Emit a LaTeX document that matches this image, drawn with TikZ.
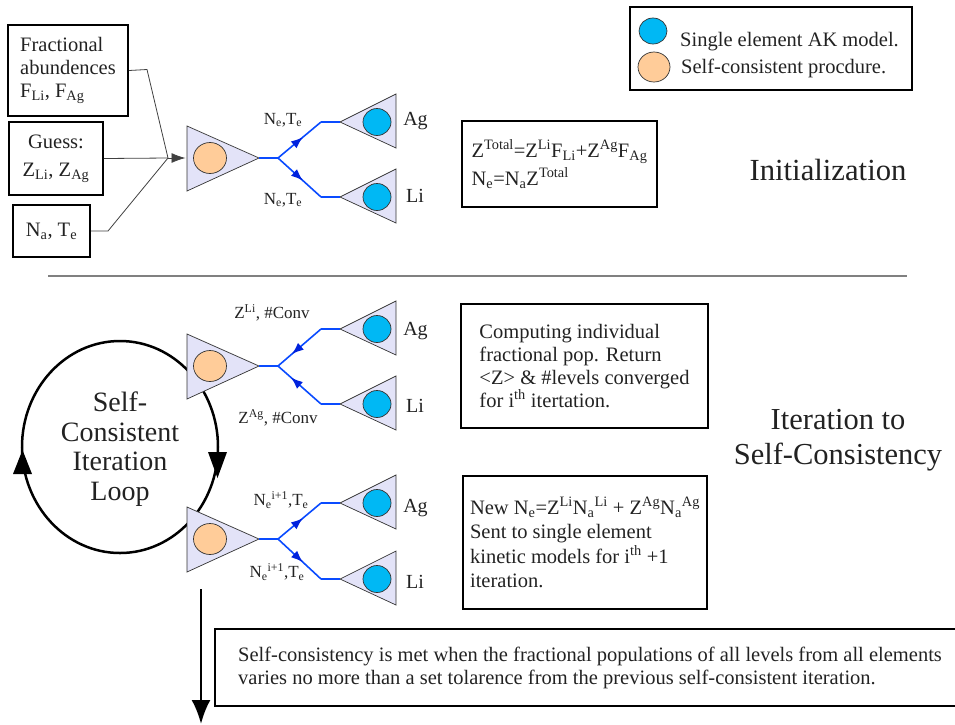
\documentclass[tikz,border=0pt]{standalone}
\usepackage{fontspec}
\setmainfont{Liberation Serif}
\usetikzlibrary{arrows.meta,decorations.markings,calc}
\definecolor{trif}{HTML}{E3E3F8}
\definecolor{orng}{HTML}{FFCC99}
\definecolor{skyb}{HTML}{00B8F4}
\definecolor{lnblue}{HTML}{0A4BFF}
\definecolor{arblue}{HTML}{0022DD}
\definecolor{txt}{HTML}{222222}
\newcommand{\myfs}[2]{\fontsize{#1}{#2}\selectfont}
\tikzset{
 boxst/.style={draw=black, line width=1.8pt, text=txt, font=\myfs{20.5}{23}, inner sep=0pt},
 trist/.style={draw=black!80, line width=0.7pt, fill=trif},
 orst/.style={draw=black!80, line width=0.7pt, fill=orng},
 blst/.style={draw=black!80, line width=0.7pt, fill=skyb},
 blueline/.style={draw=lnblue, line width=1.6pt},
 midarr/.style={postaction={decorate}, decoration={markings, mark=at position #1 with {\arrow[color=arblue]{Latex[length=12pt,width=9pt]}}}},
 midarr/.default=0.58,
 inline/.style={draw=black!75, line width=0.8pt},
 lbl/.style={text=txt, font=\myfs{17}{20}, inner sep=0pt},
 ellbl/.style={text=txt, font=\myfs{20}{24}, inner sep=0pt},
 legtxt/.style={text=txt, font=\myfs{20.5}{24}, inner sep=0pt},
 maintri/.pic={
   \draw[trist] (0,-32) -- (72,0) -- (0,33) -- cycle;
   \draw[orst] (23,0) ellipse [x radius=16.5pt, y radius=15.5pt];
   \coordinate (-apex) at (72,0);
   \coordinate (-left) at (0,0);
 },
 eltri/.pic={
   \draw[trist] (0,0) -- (56,-28) -- (56,26) -- cycle;
   \draw[blst] (37,0) ellipse [x radius=14pt, y radius=13.5pt];
   \coordinate (-apex) at (0,0);
 }
}
\begin{document}
\begin{tikzpicture}[x=1pt,y=-1pt]
\useasboundingbox (0,0) rectangle (955,724);
% self-consistent loop
\node[font=\myfs{28}{29.5}, align=center, text=txt, inner sep=0pt] (loop) at (120,449) {Self-\\Consistent\\Iteration\\Loop};
\draw[line width=2.5pt] (120,447) ellipse [x radius=98pt, y radius=106pt];
\fill (13,474) -- (22.5,450) -- (32,474) -- cycle;
\fill (208,452) -- (217.5,478) -- (227,452) -- cycle;
% triangles
\pic (ta) at (187,158) {maintri};
\pic (ea1) at (340,122) {eltri};
\pic (el1) at (340,197) {eltri};
\pic (tb) at (187,366) {maintri};
\pic (ea2) at (340,329) {eltri};
\pic (el2) at (340,404) {eltri};
\pic (tc) at (187,539) {maintri};
\pic (ea3) at (340,503) {eltri};
\pic (el3) at (340,579) {eltri};
% blue connectors
\coordinate (ja) at ($(ta-apex)+(19,0)$);
\coordinate (jb) at ($(tb-apex)+(19,0)$);
\coordinate (jc) at ($(tc-apex)+(19,0)$);
\coordinate (ka1) at ($(ea1-apex)+(-19,0)$);
\coordinate (kl1) at ($(el1-apex)+(-19,0)$);
\coordinate (ka2) at ($(ea2-apex)+(-19,0)$);
\coordinate (kl2) at ($(el2-apex)+(-19,0)$);
\coordinate (ka3) at ($(ea3-apex)+(-19,0)$);
\coordinate (kl3) at ($(el3-apex)+(-19,0)$);
\draw[blueline] (ta-apex) -- (ja);
\draw[blueline,midarr] (ja) -- (ka1);
\draw[blueline] (ka1) -- (ea1-apex);
\draw[blueline,midarr] (ja) -- (kl1);
\draw[blueline] (kl1) -- (el1-apex);
\draw[blueline] (tb-apex) -- (jb);
\draw[blueline] (ea2-apex) -- (ka2);
\draw[blueline,midarr=0.68] (ka2) -- (jb);
\draw[blueline] (el2-apex) -- (kl2);
\draw[blueline,midarr=0.7] (kl2) -- (jb);
\draw[blueline] (tc-apex) -- (jc);
\draw[blueline,midarr] (jc) -- (ka3);
\draw[blueline] (ka3) -- (ea3-apex);
\draw[blueline,midarr] (jc) -- (kl3);
\draw[blueline] (kl3) -- (el3-apex);
% connector labels
\node[lbl] (l1) at (283,120) {N\textsubscript{e},T\textsubscript{e}};
\node[lbl] (l2) at (283,200) {N\textsubscript{e},T\textsubscript{e}};
\node[lbl] (l3) at (272,313) {Z\textsuperscript{Li}, \#Conv};
\node[lbl] (l4) at (278,418) {Z\textsuperscript{Ag}, \#Conv};
\node[lbl] (l5) at (281,500) {N\textsubscript{e}\textsuperscript{i+1},T\textsubscript{e}};
\node[lbl] (l6) at (277,572) {N\textsubscript{e}\textsuperscript{i+1},T\textsubscript{e}};
% element labels
\node[ellbl, anchor=base] (ag1) at (415.5,125) {Ag};
\node[ellbl, anchor=base] (li1) at (415,202) {Li};
\node[ellbl, anchor=base] (ag2) at (415.5,335) {Ag};
\node[ellbl, anchor=base] (li2) at (415,412) {Li};
\node[ellbl, anchor=base] (ag3) at (415.5,512) {Ag};
\node[ellbl, anchor=base] (li3) at (415,588) {Li};
% input boxes
\node[boxst, minimum width=120pt, minimum height=91pt, align=left] (fa) at (68,70.5) {Fractional\\abundences\\F\textsubscript{Li}, F\textsubscript{Ag}};
\node[boxst, font=\myfs{20.5}{28}, minimum width=94pt, minimum height=73pt, align=center] (gs) at (56,158.5) {Guess:\\Z\textsubscript{Li}, Z\textsubscript{Ag}};
\node[boxst, minimum width=77pt, minimum height=52pt] (na) at (51.5,231) {N\textsubscript{a}, T\textsubscript{e}};
\coordinate (m) at (168,158);
\coordinate (fb) at (147,69.5);
\coordinate (nb) at (108,231);
\draw[inline] (fa.east) -- (fb) -- (m);
\draw[inline] (gs.east) -- (m);
\draw[inline] (na.east) -- (nb) -- (m);
\draw[inline, -{Latex[length=14pt,width=10pt]}, shorten >=1.5pt] (m) -- (ta-left);
% text boxes
\node[boxst, font=\myfs{20.5}{28}, minimum width=195pt, minimum height=86pt, align=left] (zt) at (559.5,164) {Z\textsuperscript{Total}=Z\textsuperscript{Li}F\textsubscript{Li}+Z\textsuperscript{Ag}F\textsubscript{Ag}\\N\textsubscript{e}=N\textsubscript{a}Z\textsuperscript{Total}};
\node[boxst, minimum width=247pt, minimum height=124pt, align=left] (cp) at (584.5,366) {Computing individual\\fractional pop. Return\\\textless Z\textgreater{} \& \#levels converged\\for i\textsuperscript{th} itertation.};
\node[boxst, font=\myfs{20.5}{24.5}, minimum width=244pt, minimum height=133pt, align=left] (nw) at (585,542.5) {New N\textsubscript{e}=Z\textsuperscript{Li}N\textsubscript{a}\textsuperscript{Li} + Z\textsuperscript{Ag}N\textsubscript{a}\textsuperscript{Ag}\\Sent to single element\\kinetic models for i\textsuperscript{th} +1\\iteration.};
% legend
\node[boxst, minimum width=282pt, minimum height=83pt] (lg) at (771,48.5) {};
\draw[blst] (653,31) ellipse [x radius=14pt, y radius=13pt];
\draw[orst] (654,67) ellipse [x radius=16pt, y radius=15pt];
\node[legtxt, anchor=base west] (lg1) at (680,46) {Single element AK model.};
\node[legtxt, anchor=base west] (lg2) at (681,73) {Self-consistent procdure.};
% section titles
\node[font=\myfs{30.7}{35}, text=txt, inner sep=0pt] (init) at (828,170) {Initialization};
\node[font=\myfs{30.5}{35}, text=txt, align=center, inner sep=0pt] (iter) at (838,440) {Iteration to\\Self-Consistency};
% separator
\coordinate (s1) at (48,276);
\coordinate (s2) at (907,276);
\draw[draw=black!50, line width=1.2pt] (s1) -- (s2);
% bottom box
\begin{scope}
\clip (0,0) rectangle (955,724);
\node[boxst, minimum width=746pt, minimum height=77pt, anchor=north west] (sc) at (214,628) {};
\end{scope}
\node[font=\myfs{20.5}{23}, align=left, anchor=west, text=txt, inner sep=0pt] (sct) at (238,668) {Self-consistency is met when the fractional populations of all levels from all elements\\varies no more than a set tolarence from the previous self-consistent iteration.};
% exit arrow
\coordinate (d1) at (201,589);
\coordinate (d2) at (201,724);
\draw[line width=2.5pt, -{Latex[length=24pt,width=19pt]}] (d1) -- (d2);
\end{tikzpicture}
\end{document}
